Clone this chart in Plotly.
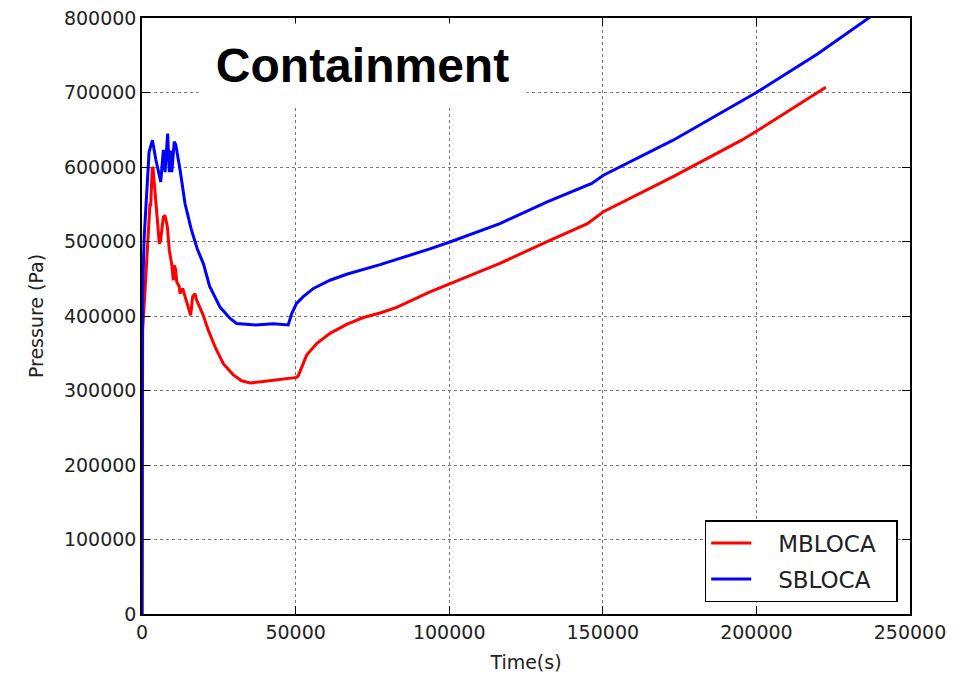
import plotly.graph_objects as go

# SBLOCA (blue)
sb_t = [0, 150, 700, 2300, 3400, 4500, 6100, 6950, 7500, 8350, 8900, 9450, 9700,
        10500, 11000, 12400, 14000, 16000, 18000, 19500, 20000, 22000, 25400, 28600,
        30800, 37000, 42700, 47600, 48700, 50300, 52500, 55800, 61200, 66600, 77500,
        93700, 100000, 116500, 131700, 146400, 150200, 172900, 200000, 220000, 240000]
sb_p = [0, 425000, 505000, 620000, 636000, 610000, 580000, 623000, 593000, 645000,
        593000, 622000, 593000, 634000, 630000, 596000, 551000, 517000, 490000, 474000,
        470000, 440000, 412000, 397000, 390000, 388000, 389500, 388000, 403000, 417000,
        426000, 437000, 448000, 456000, 469000, 490000, 499000, 524000, 553000, 578000,
        589000, 636000, 700000, 752000, 810000]

# MBLOCA (red)
mb_t = [0, 200, 1000, 2050, 2600, 2820, 3360, 3600, 4780, 5640, 6070, 6950, 7490, 8250,
        8900, 9660, 10200, 10520, 10970, 11300, 12150, 12370, 13240, 13780, 14750, 15840,
        16500, 17250, 17800, 18880, 19750, 21580, 23760, 26460, 29720, 32450, 35150,
        39490, 44900, 50350, 50900, 52000, 53600, 56860, 61200, 66630, 72060, 77470,
        82900, 93740, 116500, 131700, 145000, 150200, 172900, 195200, 200000, 222600]
mb_p = [0, 380000, 435000, 502000, 551000, 547000, 600000, 598000, 533000, 497000,
        502000, 533000, 535000, 520000, 488000, 470000, 448000, 468000, 462000, 446000,
        439000, 430000, 437000, 430000, 417000, 401000, 426000, 430000, 421000, 410000,
        403000, 381000, 359000, 336000, 321000, 313000, 310000, 312000, 315000, 317600,
        320000, 332000, 347500, 363000, 376700, 388800, 398000, 404000, 411500, 432500,
        470600, 499600, 524000, 540000, 587000, 636000, 648000, 707000]

series_names = ["MBLOCA", "SBLOCA"]

x_ticks = [0, 50000, 100000, 150000, 200000, 250000]
x_labels = ["0", "50000", "100000", "150000", "200000", "250000"]
y_ticks = [0, 100000, 200000, 300000, 400000, 500000, 600000, 700000, 800000]
y_labels = ["0", "100000", "200000", "300000", "400000", "500000", "600000", "700000", "800000"]

pad = "\u00a0\u00a0\u00a0"
tail = "\u00a0\u00a0"
fig = go.Figure()
fig.add_trace(go.Scatter(x=mb_t, y=mb_p, mode="lines", name=pad + series_names[0] + tail,
                         legendgroup="a", line=dict(color="#ff0000", width=3)))
fig.add_trace(go.Scatter(x=sb_t, y=sb_p, mode="lines", name=pad + series_names[1] + tail,
                         legendgroup="b", line=dict(color="#0000ff", width=3)))

font_main = "DejaVu Sans"
axis_common = dict(
    showline=True, linecolor="black", linewidth=1.5, mirror="ticks",
    ticks="inside", ticklen=8, tickwidth=1, tickcolor="black",
    showgrid=True, gridcolor="#777777", griddash="dot", gridwidth=1,
    zeroline=False, automargin=False,
    tickfont=dict(family=font_main, size=19, color="#222"),
)

fig.update_layout(
    width=971, height=674,
    margin=dict(l=142, r=61, t=18, b=60),
    paper_bgcolor="white", plot_bgcolor="white",
    xaxis=dict(range=[0, 250000], tickvals=x_ticks, ticktext=x_labels,
               title=dict(text="Time(s)", font=dict(family=font_main, size=19, color="#222"),
                          standoff=14),
               **axis_common),
    yaxis=dict(range=[0, 800000], tickvals=y_ticks, ticktext=y_labels,
               title=dict(text="Pressure (Pa)", font=dict(family=font_main, size=19, color="#222"),
                          standoff=15),
               **axis_common),
    legend=dict(x=0.984, y=0.02, xanchor="right", yanchor="bottom",
                bgcolor="white", bordercolor="black", borderwidth=1.5,
                font=dict(family=font_main, size=23, color="#222"),
                itemwidth=40, traceorder="grouped", tracegroupgap=3),
    showlegend=True,
)

fig.add_annotation(
    text="<b>Containment</b>", xref="paper", yref="paper",
    x=(362.5 - 142) / 768, y=(614 - 65) / 596, xanchor="center", yanchor="middle",
    showarrow=False, bgcolor="white", width=325, height=80,
    font=dict(family="Liberation Sans", size=48, color="black"),
)

fig.write_html("out.html")
